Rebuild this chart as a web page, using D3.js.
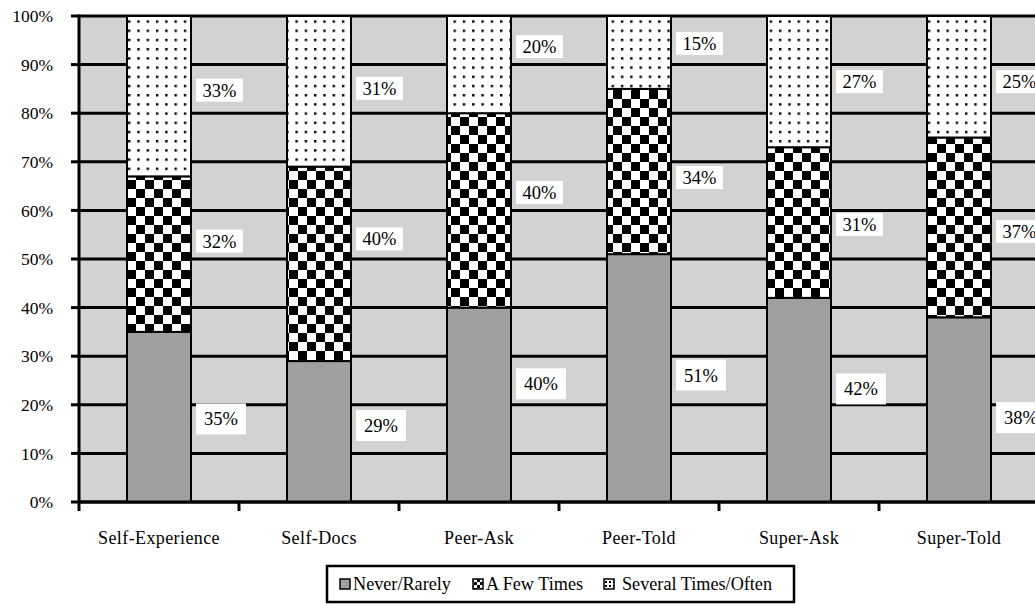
<!DOCTYPE html>
<html>
<head>
<meta charset="utf-8">
<script src="https://cdn.jsdelivr.net/npm/d3@7"></script>
<style>
  html, body { margin: 0; padding: 0; background: #fff; }
  svg { display: block; }
  text { font-family: "Liberation Serif", "Times New Roman", serif; fill: #000; }
</style>
</head>
<body>
<svg id="chart" width="1035" height="605"></svg>
<script>
// Survey responses by information source (percent of respondents)
const categories = ["Self-Experience", "Self-Docs", "Peer-Ask", "Peer-Told", "Super-Ask", "Super-Told"];
const seriesNames = ["Never/Rarely", "A Few Times", "Several Times/Often"];
const neverRarely = [35, 29, 40, 51, 42, 38];
const aFewTimes   = [32, 40, 40, 34, 31, 37];
const severalOften = [33, 31, 20, 15, 27, 25];
const yTicks = [0, 10, 20, 30, 40, 50, 60, 70, 80, 90, 100];

// Vertical nudge (px) for each value label, per series then category
const labelNudge = [
  [2, -6, -21, -3, -11, 8],
  [-13, -25, -18, 6, 2, 4],
  [-6, -3, -18, -9, 0, 5]
];

const svg = d3.select("#chart");
const plot = { left: 79, right: 1039, top: 16, bottom: 502 };

const x = d3.scaleBand()
  .domain(categories)
  .range([plot.left, plot.right])
  .paddingInner(0.6)
  .paddingOuter(0.3);
const y = d3.scaleLinear().domain([0, 100]).range([plot.bottom, plot.top]);
const step = x.step();

// Fill patterns
const defs = svg.append("defs");
const checker = defs.append("pattern")
  .attr("id", "checker").attr("patternUnits", "userSpaceOnUse")
  .attr("x", 127).attr("y", 0).attr("width", 18).attr("height", 18);
checker.append("rect").attr("width", 18).attr("height", 18).attr("fill", "#fff");
checker.append("rect").attr("width", 9).attr("height", 9).attr("fill", "#000");
checker.append("rect").attr("x", 9).attr("y", 9).attr("width", 9).attr("height", 9).attr("fill", "#000");

const dots = defs.append("pattern")
  .attr("id", "dots").attr("patternUnits", "userSpaceOnUse")
  .attr("x", 128).attr("y", 2).attr("width", 9.3).attr("height", 9.2);
dots.append("rect").attr("width", 9.3).attr("height", 9.2).attr("fill", "#fff");
dots.append("rect").attr("x", 0).attr("y", 0).attr("width", 2.4).attr("height", 2.4).attr("fill", "#000");

const checkerSmall = defs.append("pattern")
  .attr("id", "checkerSmall").attr("patternUnits", "userSpaceOnUse")
  .attr("width", 6).attr("height", 6);
checkerSmall.append("rect").attr("width", 6).attr("height", 6).attr("fill", "#fff");
checkerSmall.append("rect").attr("width", 3).attr("height", 3).attr("fill", "#000");
checkerSmall.append("rect").attr("x", 3).attr("y", 3).attr("width", 3).attr("height", 3).attr("fill", "#000");

const dotsSmall = defs.append("pattern")
  .attr("id", "dotsSmall").attr("patternUnits", "userSpaceOnUse")
  .attr("x", 1).attr("y", 1).attr("width", 4).attr("height", 4);
dotsSmall.append("rect").attr("width", 4).attr("height", 4).attr("fill", "#fff");
dotsSmall.append("rect").attr("width", 2).attr("height", 2).attr("fill", "#000");

const fills = ["#a0a0a0", "url(#checker)", "url(#dots)"];

// Plot background
svg.append("rect")
  .attr("x", plot.left).attr("y", plot.top)
  .attr("width", plot.right - plot.left).attr("height", plot.bottom - plot.top)
  .attr("fill", "#d2d2d2");

// Horizontal gridlines
svg.append("g").selectAll("line").data(yTicks).join("line")
  .attr("x1", plot.left).attr("x2", plot.right)
  .attr("y1", d => y(d)).attr("y2", d => y(d))
  .attr("stroke", "#000").attr("stroke-width", 3);

// Stacked bars
const stackData = categories.map((c, i) => ({
  category: c, 0: neverRarely[i], 1: aFewTimes[i], 2: severalOften[i]
}));
const stack = d3.stack().keys([0, 1, 2]);
const layers = stack(stackData);

const barG = svg.append("g");
layers.forEach((layer, si) => {
  barG.append("g").selectAll("rect").data(layer).join("rect")
    .attr("x", d => x(d.data.category))
    .attr("y", d => y(d[1]))
    .attr("width", x.bandwidth())
    .attr("height", d => y(d[0]) - y(d[1]))
    .attr("fill", fills[si])
    .attr("stroke", "#000").attr("stroke-width", 2);
});

// Baseline and left axis
svg.append("line")
  .attr("x1", plot.left).attr("x2", plot.right)
  .attr("y1", y(0)).attr("y2", y(0))
  .attr("stroke", "#000").attr("stroke-width", 3);
svg.append("line")
  .attr("x1", plot.left).attr("x2", plot.left)
  .attr("y1", plot.top - 1.5).attr("y2", plot.bottom + 9)
  .attr("stroke", "#000").attr("stroke-width", 3);

// Y axis ticks and labels
const yAxis = svg.append("g");
yAxis.selectAll("line").data(yTicks).join("line")
  .attr("x1", plot.left - 8).attr("x2", plot.left)
  .attr("y1", d => y(d)).attr("y2", d => y(d))
  .attr("stroke", "#000").attr("stroke-width", 3);
yAxis.selectAll("text").data(yTicks).join("text")
  .attr("x", 53).attr("y", d => y(d))
  .attr("dy", "0.35em")
  .attr("text-anchor", "end")
  .attr("font-size", 17.5)
  .text(d => d + "%");

// X axis: ticks between categories, labels centred on bars
const boundaries = categories.map(c => x(c) + x.bandwidth() / 2 - step / 2);
svg.append("g").selectAll("line").data(boundaries.slice(1)).join("line")
  .attr("x1", d => d).attr("x2", d => d)
  .attr("y1", plot.bottom).attr("y2", plot.bottom + 9)
  .attr("stroke", "#000").attr("stroke-width", 3);
svg.append("g").selectAll("text").data(categories).join("text")
  .attr("x", d => x(d) + x.bandwidth() / 2)
  .attr("y", 544)
  .attr("text-anchor", "middle")
  .attr("font-size", 18)
  .attr("letter-spacing", 0.4)
  .text(d => d);

// Value labels in white boxes to the right of each segment
const labelG = svg.append("g");
layers.forEach((layer, si) => {
  layer.forEach((d, ci) => {
    const value = d[1] - d[0];
    const cy = y((d[0] + d[1]) / 2) + labelNudge[si][ci];
    const bx = x(d.data.category) + x.bandwidth() + 5;
    const bw = si === 0 ? 50 : 47;
    const bh = si === 0 ? 31 : 23;
    labelG.append("rect")
      .attr("x", bx).attr("y", cy - bh / 2)
      .attr("width", bw).attr("height", bh)
      .attr("fill", "#fff");
    labelG.append("text")
      .attr("x", bx + bw / 2).attr("y", cy)
      .attr("dy", "0.35em")
      .attr("text-anchor", "middle")
      .attr("font-size", 18.5)
      .text(value + "%");
  });
});

// Legend
const legend = svg.append("g");
legend.append("rect")
  .attr("x", 327).attr("y", 566).attr("width", 467).attr("height", 36)
  .attr("fill", "#fff").attr("stroke", "#000").attr("stroke-width", 2.5);
const legendX = [340, 473, 604];
const legendFills = ["#a0a0a0", "url(#checkerSmall)", "url(#dotsSmall)"];
seriesNames.forEach((name, i) => {
  legend.append("rect")
    .attr("x", legendX[i]).attr("y", 579)
    .attr("width", 10).attr("height", 10)
    .attr("fill", legendFills[i])
    .attr("stroke", "#000").attr("stroke-width", 1.5);
  legend.append("text")
    .attr("x", legendX[i] + (i === 2 ? 18 : 13)).attr("y", 584)
    .attr("dy", "0.35em")
    .attr("font-size", 18.2)
    .text(name);
});
</script>
</body>
</html>
